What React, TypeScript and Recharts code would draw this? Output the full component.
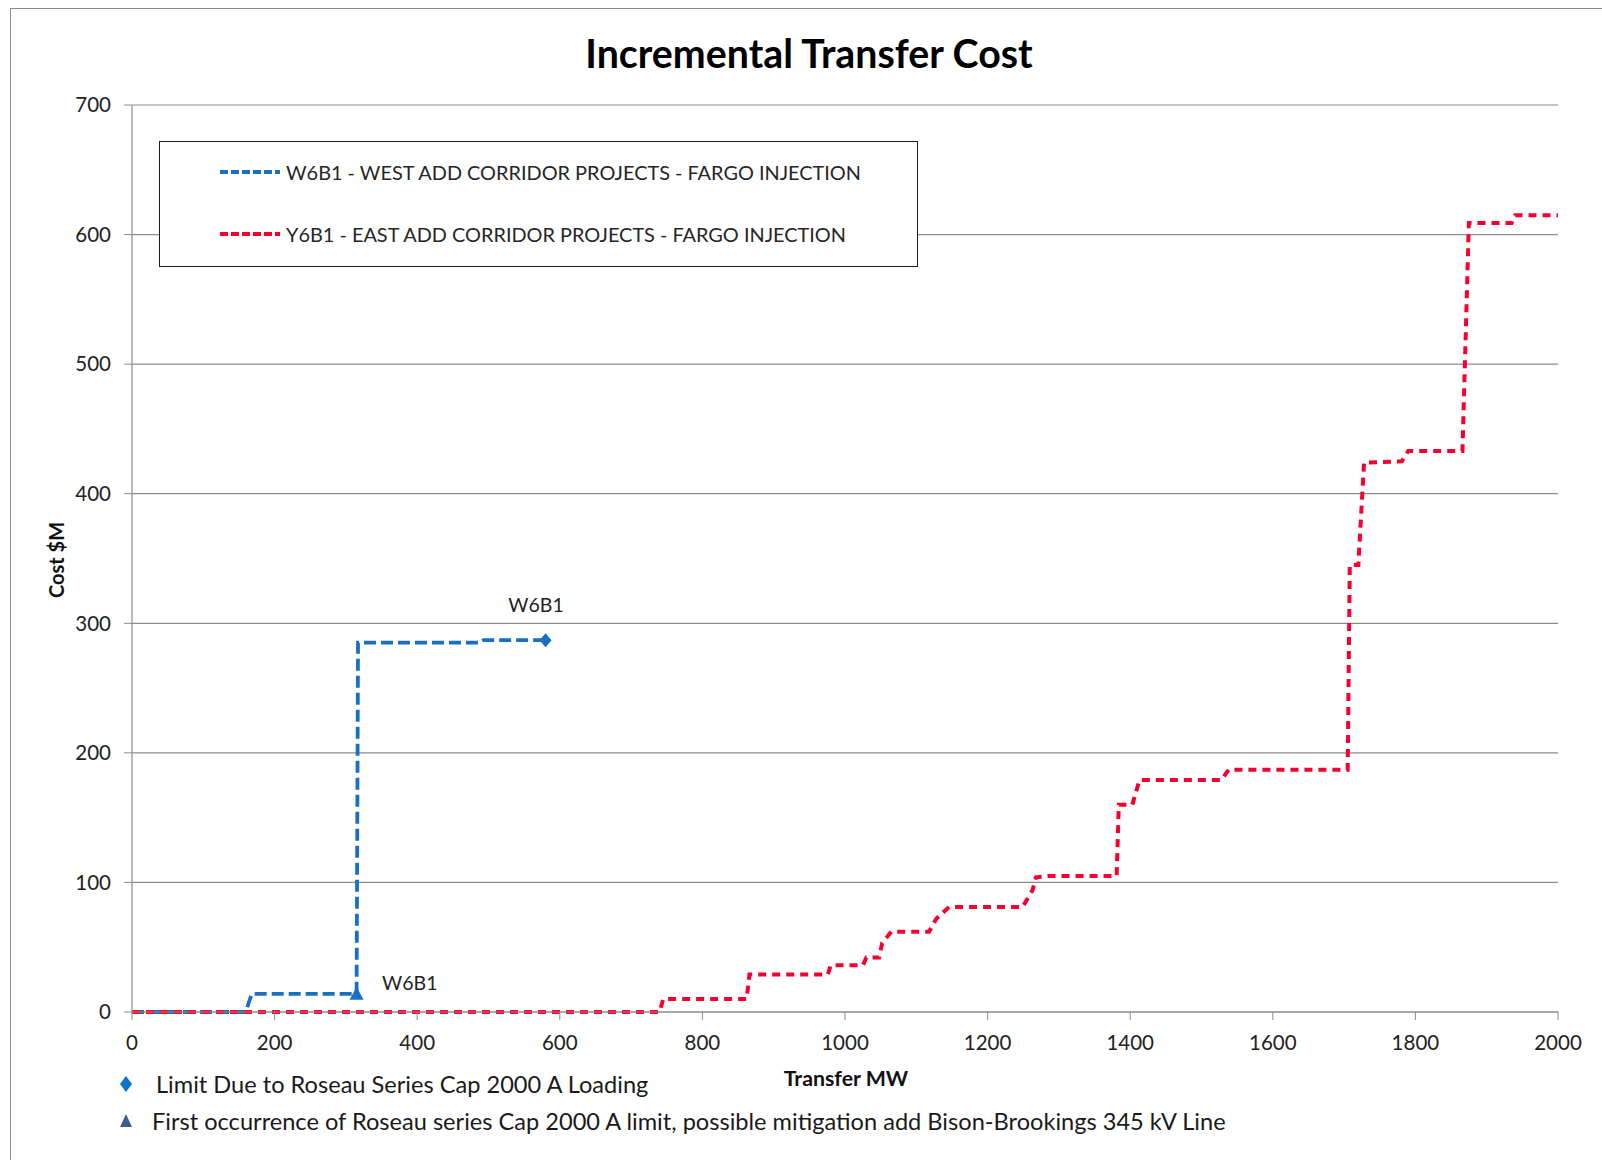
import React from "react"
import { ComposedChart, Line, Scatter, XAxis, YAxis, CartesianGrid, Legend, LabelList } from "recharts"

const FONT = "Lato, 'Open Sans', sans-serif"

// W6B1 - west corridor, step curve
const westMW = [0, 160, 163, 168, 315, 317, 488, 493, 580]
const westCost = [0, 0, 6, 14, 14, 285, 285, 287, 287]

// Y6B1 - east corridor, step curve
const eastMW = [0, 740, 745, 862, 866, 976, 980, 1025, 1030, 1048, 1052, 1065, 1118, 1128, 1146, 1249, 1263, 1268, 1286, 1381, 1384, 1403, 1413, 1528, 1538, 1705, 1708, 1720, 1728, 1781, 1790, 1866, 1875, 1935, 1940, 2000]
const eastCost = [0, 0, 10, 10, 29, 29, 36, 36, 42, 42, 53, 62, 62, 72, 81, 81, 94, 104, 105, 105, 160, 160, 179, 179, 187, 187, 345, 345, 424, 425, 433, 433, 609, 609, 615, 615]

const seriesNames = [
  "W6B1 - WEST ADD CORRIDOR PROJECTS - FARGO INJECTION",
  "Y6B1 - EAST ADD CORRIDOR PROJECTS - FARGO INJECTION",
]

// marker points
const limitMW = [580]
const limitCost = [287]
const firstLimitMW = [315]
const firstLimitCost = [14]

const xTicks = [0, 200, 400, 600, 800, 1000, 1200, 1400, 1600, 1800, 2000]
const yTicks = [0, 100, 200, 300, 400, 500, 600, 700]

const notes = [
  "Limit Due to Roseau Series Cap 2000 A Loading",
  "First occurrence of Roseau series Cap 2000 A limit, possible mitigation add Bison-Brookings 345 kV Line",
]

const BLUE = "#1a6fc0"
const RED = "#f7002f"
const GRID = "#8c8c8c"

const westData = westMW.map((mw, i) => ({ mw, cost: westCost[i] }))
const eastData = eastMW.map((mw, i) => ({ mw, cost: eastCost[i] }))
const limitData = limitMW.map((mw, i) => ({ mw, cost: limitCost[i] }))
const firstLimitData = firstLimitMW.map((mw, i) => ({ mw, cost: firstLimitCost[i] }))

const Diamond = ({ cx, cy, fill }: any) => (
  <path d={`M${cx},${cy - 7} L${cx + 6},${cy} L${cx},${cy + 7} L${cx - 6},${cy} Z`} fill={fill} />
)

const Triangle = ({ cx, cy, fill }: any) => (
  <path d={`M${cx},${cy - 7} L${cx + 7},${cy + 6} L${cx - 7},${cy + 6} Z`} fill={fill} />
)

const renderLegend = ({ payload }: any) => {
  const items = (payload || []).filter((p: any) => p.type !== "none")
  return (
    <div style={{ position: "relative", width: 759, height: 126, border: "1.5px solid #1a1a1a", boxSizing: "border-box", background: "#fff" }}>
      {items.map((p: any, i: number) => (
        <div key={p.value} style={{ position: "absolute", left: 58, top: 16 + i * 62, height: 28, display: "flex", alignItems: "center" }}>
          <svg width={64} height={10}>
            <line x1={2} y1={5} x2={62} y2={5} stroke={p.color} strokeWidth={4} strokeDasharray="8 3" />
          </svg>
          <span style={{ fontFamily: FONT, fontSize: 19.9, color: "#262626", marginLeft: 4 }}>{p.value}</span>
        </div>
      ))}
    </div>
  )
}

export default function App() {
  return (
    <div style={{ position: "absolute", left: 0, top: 0, width: 1602, height: 1160, overflow: "hidden", background: "#fff", fontFamily: FONT }}>
      <div style={{ position: "absolute", left: 10, top: 8, width: 1700, height: 1300, borderLeft: "1.5px solid #8c8c8c", borderTop: "1.5px solid #8c8c8c" }} />
      <div style={{ position: "absolute", left: 409, width: 800, top: 33, textAlign: "center", fontSize: 39.3, fontWeight: 700, color: "#000", lineHeight: "40px" }}>
        Incremental Transfer Cost
      </div>
      <ComposedChart
        width={1602}
        height={1160}
        margin={{ top: 105, right: 44, bottom: 118, left: 52 }}
        style={{ position: "absolute", left: 0, top: 0 }}
      >
        <CartesianGrid vertical={false} stroke={GRID} strokeWidth={1.2} />
        <XAxis
          dataKey="mw"
          type="number"
          domain={[0, 2000]}
          ticks={xTicks}
          interval={0}
          height={30}
          tickSize={8}
          tickMargin={15}
          axisLine={{ stroke: GRID, strokeWidth: 1.2 }}
          tickLine={{ stroke: GRID }}
          tick={{ fill: "#222", fontSize: 20.5, fontFamily: FONT }}
        />
        <YAxis
          type="number"
          domain={[0, 700]}
          ticks={yTicks}
          interval={0}
          width={80}
          tickSize={8}
          tickMargin={13}
          axisLine={{ stroke: GRID, strokeWidth: 1.2 }}
          tickLine={{ stroke: GRID }}
          tick={{ fill: "#222", fontSize: 20.5, fontFamily: FONT }}
        />
        <Legend
          layout="horizontal"
          verticalAlign="middle"
          align="center"
          content={renderLegend}
          wrapperStyle={{ position: "absolute", left: 159, top: 141, width: 759, height: 126 }}
        />
        <Line
          data={westData}
          dataKey="cost"
          name={seriesNames[0]}
          type="linear"
          stroke={BLUE}
          strokeWidth={3.8}
          strokeDasharray="12 5"
          dot={false}
          activeDot={false}
          isAnimationActive={false}
        />
        <Line
          data={eastData}
          dataKey="cost"
          name={seriesNames[1]}
          type="linear"
          stroke={RED}
          strokeWidth={4}
          strokeDasharray="8 6"
          dot={false}
          activeDot={false}
          isAnimationActive={false}
        />
        <Scatter data={limitData} dataKey="cost" fill={BLUE} shape={Diamond} legendType="none" isAnimationActive={false}>
          <LabelList
            dataKey="cost"
            content={({ x, y }: any) => (
              <text x={x - 5} y={y - 24} textAnchor="middle" fontSize={19.5} fontFamily={FONT} fill="#222">W6B1</text>
            )}
          />
        </Scatter>
        <Scatter data={firstLimitData} dataKey="cost" fill={BLUE} shape={Triangle} legendType="none" isAnimationActive={false}>
          <LabelList
            dataKey="cost"
            content={({ x, y }: any) => (
              <text x={x + 30} y={y + 1} textAnchor="start" fontSize={19.5} fontFamily={FONT} fill="#222">W6B1</text>
            )}
          />
        </Scatter>
      </ComposedChart>
      <div style={{ position: "absolute", left: 766, width: 160, top: 1065, textAlign: "center", fontSize: 21.3, fontWeight: 700, color: "#111" }}>
        Transfer MW
      </div>
      <div style={{ position: "absolute", left: 56, top: 560, transform: "translate(-50%, -50%) rotate(-90deg)", fontSize: 20, fontWeight: 700, color: "#111", whiteSpace: "nowrap" }}>
        Cost $M
      </div>
      {notes.map((n, i) => (
        <div key={n} style={{ position: "absolute", left: 117, top: 1070 + i * 37, height: 28, display: "flex", alignItems: "center", whiteSpace: "nowrap" }}>
          <svg width={18} height={18}>
            {i === 0 ? (
              <path d="M9,1 L15,9 L9,17 L3,9 Z" fill="#0a74d0" />
            ) : (
              <path d="M9,2 L15,15 L3,15 Z" fill="#3b5f8c" />
            )}
          </svg>
          <span style={{ marginLeft: i === 0 ? 21 : 17, fontSize: 23.6, color: "#1a1a1a" }}>{n}</span>
        </div>
      ))}
    </div>
  )
}
